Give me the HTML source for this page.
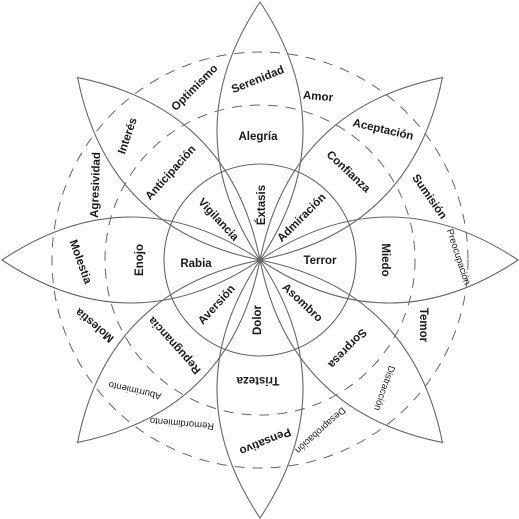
<!DOCTYPE html>
<html><head><meta charset="utf-8"><style>
html,body{margin:0;padding:0;background:#fff;}
svg{display:block;}
text{font-family:"Liberation Sans",sans-serif;fill:#1a1a1a;text-anchor:middle;dominant-baseline:central;}
.b{font-size:11.5px;font-weight:bold;}
.s{font-size:9.5px;}
</style></head><body>
<svg id="wheel" width="519" height="519" viewBox="0 0 519 519">
<g id="shapes"></g>
<g id="labels">
<text class="b" transform="translate(258,80) rotate(-22)">Serenidad</text>
<text class="b" transform="translate(258,137)">Alegría</text>
<text class="b" transform="translate(262,205) rotate(-90)">Éxtasis</text>
<text class="b" transform="translate(318,97) rotate(5)">Amor</text>
<text class="b" transform="translate(383,130) rotate(13)">Aceptación</text>
<text class="b" transform="translate(348,172) rotate(43)">Confianza</text>
<text class="b" transform="translate(302,218) rotate(-45)">Admiración</text>
<text class="b" transform="translate(429,197) rotate(55)">Sumisión</text>
<text class="s" transform="translate(458,257) rotate(72)">Preocupación</text>
<text class="b" transform="translate(385,260) rotate(90)">Miedo</text>
<text class="b" transform="translate(320,261)">Terror</text>
<text class="b" transform="translate(423,325) rotate(90)">Temor</text>
<text class="s" transform="translate(384,388) rotate(109)">Distracción</text>
<text class="b" transform="translate(347,348) rotate(134)">Sorpresa</text>
<text class="b" transform="translate(302,303) rotate(43)">Asombro</text>
<text class="s" transform="translate(320,430) rotate(138)">Desaprobación</text>
<text class="b" transform="translate(258,320) rotate(-90)">Dolor</text>
<text class="b" transform="translate(258,380) rotate(180)">Tristeza</text>
<text class="b" transform="translate(265,441) rotate(158)">Pensativo</text>
<text class="s" transform="translate(182,423) rotate(185)">Remordimiento</text>
<text class="b" transform="translate(217,305) rotate(-48)">Aversión</text>
<text class="b" transform="translate(175,345) rotate(228)">Repugnancia</text>
<text class="s" transform="translate(135,390) rotate(193)">Aburrimiento</text>
<text class="b" transform="translate(95,325) rotate(220)">Molestia</text>
<text class="b" transform="translate(196,264)">Rabia</text>
<text class="b" transform="translate(140,260) rotate(-90)">Enojo</text>
<text class="b" transform="translate(80,262) rotate(70)">Molestia</text>
<text class="b" transform="translate(96,185) rotate(-88)">Agresividad</text>
<text class="b" transform="translate(128,136) rotate(-71)">Interés</text>
<text class="b" transform="translate(171,173) rotate(-48)">Anticipación</text>
<text class="b" transform="translate(218,220) rotate(47)">Vigilancia</text>
<text class="b" transform="translate(195,88) rotate(-45)">Optimismo</text>
</g>
</svg>
<script>
const petalNames = ["alegria","confianza","miedo","sorpresa","tristeza","aversion","ira","anticipacion"];
const petalAngles = [-90,-45,0,45,90,135,180,225];
const ringRadii = [96];
const dashedRadii = [155,208];
const petalLength = 258;
const petalBulge = 86;
const cx=260, cy=260;
const ns="http://www.w3.org/2000/svg";
const g=document.getElementById('shapes');
function pt(r,a){const t=a*Math.PI/180;return [cx+r*Math.cos(t),cy+r*Math.sin(t)];}
dashedRadii.forEach((r,i)=>{
  const c=document.createElementNS(ns,'circle');
  c.setAttribute('cx',cx);c.setAttribute('cy',cy);c.setAttribute('r',r);
  c.setAttribute('fill','none');c.setAttribute('stroke','#666');c.setAttribute('stroke-width','1');
  c.setAttribute('stroke-dasharray','10 8');
  
  
  g.appendChild(c);
});
petalAngles.forEach((a,i)=>{
  const tip=pt(petalLength,a);
  const mid=pt(petalLength/2,a);
  const p=(a+90)*Math.PI/180;
  const c1=[mid[0]+petalBulge*Math.cos(p),mid[1]+petalBulge*Math.sin(p)];
  const c2=[mid[0]-petalBulge*Math.cos(p),mid[1]-petalBulge*Math.sin(p)];
  const path=document.createElementNS(ns,'path');
  path.setAttribute('d',`M${cx},${cy} Q${c1[0]},${c1[1]} ${tip[0]},${tip[1]} Q${c2[0]},${c2[1]} ${cx},${cy}Z`);
  path.setAttribute('fill','none');path.setAttribute('stroke','#666');path.setAttribute('stroke-width','1.1');
  
  
  g.appendChild(path);
});
ringRadii.forEach((r,i)=>{
  const c=document.createElementNS(ns,'circle');
  c.setAttribute('cx',cx);c.setAttribute('cy',cy);c.setAttribute('r',r);
  c.setAttribute('fill','none');c.setAttribute('stroke','#666');c.setAttribute('stroke-width','1.1');
  
  
  g.appendChild(c);
});
</script>
</body></html>
